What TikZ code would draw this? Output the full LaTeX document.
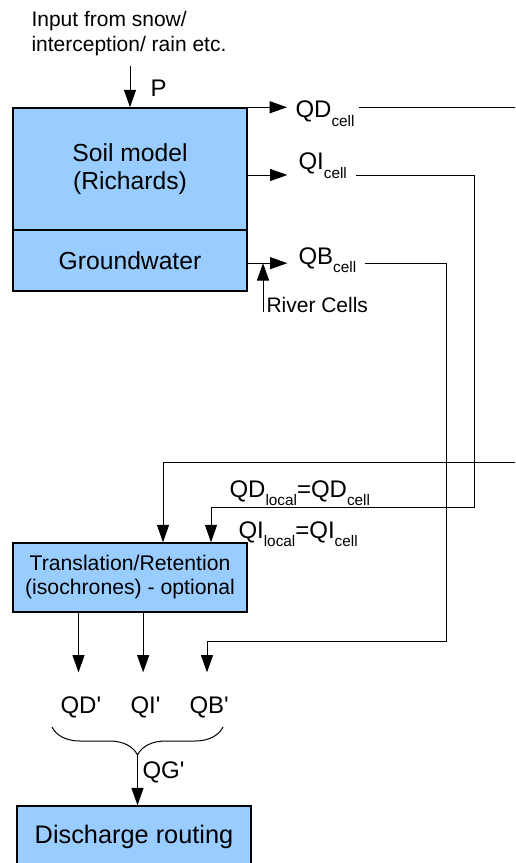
\documentclass[tikz,border=0pt]{standalone}
\usepackage{fontspec}
\setmainfont{Liberation Sans}
\usetikzlibrary{arrows.meta,decorations.pathreplacing}

\definecolor{boxblue}{RGB}{153,204,255}
\newcommand{\subtxt}[1]{\raisebox{-6pt}{\fontsize{11.5}{11.5}\selectfont #1}}

\tikzset{every picture/.style={line width=0.75pt}}
\tikzset{
  box/.style={draw, line width=1.1pt, fill=boxblue, inner sep=0pt, align=center,
    minimum width=175.5pt, font=\fontsize{18.5}{21}\selectfont},
  flow/.style={-{Triangle[length=13pt,width=9pt]}},
  lbl/.style={inner sep=0pt, anchor=base west, font=\fontsize{18}{21}\selectfont},
  outlbl/.style={lbl, inner ysep=17.5pt},
  note/.style={inner sep=0pt, align=left, font=\fontsize{15.75}{18.75}\selectfont},
}

\begin{document}
\begin{tikzpicture}[x=0.75pt,y=0.75pt,yscale=-1,xscale=1]
\useasboundingbox (0,0) rectangle (515,863);
\clip (0,0) rectangle (515,863);

% Boxes
\node[box, minimum height=91.5pt] (soil) at (130,169) {Soil model\\(Richards)};
\node[box, minimum height=45.75pt] (gw) at (130,260.5) {Groundwater};
\node[box, minimum height=51.75pt, font=\fontsize{15.9}{18}\selectfont] (trans) at (130,577.5) {Translation/Retention\\(isochrones) - optional};
\node[box, minimum height=46.5pt, font=\fontsize{19}{22}\selectfont] (route) at (134,837) {Discharge routing};

% Text Node
\node[note, anchor=north west] (input) at (31,11) {Input from snow/\\interception/ rain etc.};
% Text Node
\node[lbl] (plab) at (150,97) {P};
% Text Node
\node[lbl] (qdcell) at (295,118) {QD\subtxt{cell}};
% Text Node
\node[lbl] (qicell) at (298,170) {QI\subtxt{cell}};
% Text Node
\node[lbl] (qbcell) at (298,264) {QB\subtxt{cell}};
% Text Node
\node[note, anchor=base west] (rivcell) at (266,312) {River Cells};
% Text Node
\node[lbl] (qdloc) at (229,497) {QD\subtxt{local}=QD\subtxt{cell}};
% Text Node
\node[lbl] (qiloc) at (238,538) {QI\subtxt{local}=QI\subtxt{cell}};
% Text Node
\node[outlbl] (qdp) at (60,713) {QD\rlap{\textquotesingle}};
\node[outlbl] (qip) at (130,713) {QI\rlap{\textquotesingle}};
\node[outlbl] (qbp) at (189,713) {QB\rlap{\textquotesingle}};
% Text Node
\node[lbl] (qgp) at (142,778) {QG\textquotesingle};

% Bend points
\coordinate (pin) at (130,66);
\coordinate (qiout) at ([yshift=4.5pt]soil.east);
\coordinate (qbout) at ([yshift=2pt]gw.east);
\coordinate (rivfoot) at ([xshift=-2.25pt]rivcell.base west);
\coordinate (qdback) at (525,462);
\coordinate (qdin) at (163,462);
\coordinate (qiback) at (474,507);
\coordinate (qiin) at (211,507);
\coordinate (qbback) at (446,641);
\coordinate (qbin) at (207,641);
\coordinate (brl) at (52,727);
\coordinate (brr) at (223,727);
\coordinate (brtip) at (137.5,755);

%Straight Lines
\draw[flow] (pin) -- (soil.north);
\draw[flow] (soil.north east) -- ([xshift=-6pt]qdcell.west |- soil.north east);
\draw[flow] (qiout) -- ([xshift=-8pt]qicell.west |- qiout);
\draw[flow] (qbout) -- ([xshift=-8pt]qbcell.west |- qbout);
\draw[flow] (rivfoot) -- (rivfoot |- qbout);

%Loops back
\draw[flow] ([xshift=3pt]qdcell.east |- soil.north east) -| (qdback) -- (qdin) -- (qdin |- trans.north);
\draw[flow] ([xshift=6.75pt]qicell.east |- qiout) -| (qiback) -- (qiin) -- (qiin |- trans.north);
\draw[flow] ([xshift=6pt]qbcell.east |- qbout) -| (qbback) -- (qbin) -- (qbin |- qbp.north);

%Outputs
\draw[flow] (qdp.north |- trans.south) -- (qdp.north);
\draw[flow] (qip.north |- trans.south) -- (qip.north);

%Brace
\draw[decorate, decoration={brace, amplitude=21pt, mirror}] (brl) -- (brr);
\draw[flow] (brtip) -- (brtip |- route.north);

\end{tikzpicture}
\end{document}
